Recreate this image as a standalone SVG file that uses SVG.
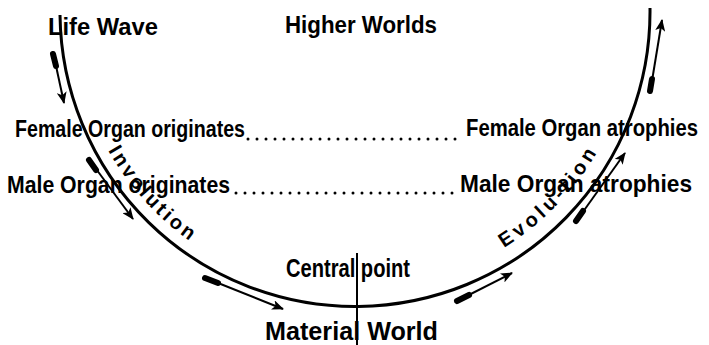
<svg xmlns="http://www.w3.org/2000/svg" width="709" height="345" viewBox="0 0 709 345">
<defs>
<style>
.lbl{font-family:"Liberation Sans",Arial,sans-serif;font-weight:bold;font-size:24px;fill:#000}
.big{font-size:26px}
.arc{font-family:"Liberation Sans",Arial,sans-serif;font-weight:bold;font-size:20px;fill:#000}
.curve{fill:none;stroke:#000;stroke-width:3}
.arr{fill:none;stroke:#000;stroke-width:2}
.blob{fill:none;stroke:#000;stroke-width:6;stroke-linecap:round}
.dots{fill:none;stroke:#000;stroke-width:3;stroke-linecap:round;stroke-dasharray:0 9}
</style>
<marker id="ah" markerWidth="12" markerHeight="10" refX="11" refY="5" orient="auto" markerUnits="userSpaceOnUse">
<path d="M0,0 L12,5 L0,10 L3,5 z" fill="#000"/>
</marker>
<path id="invPath" d="M104.2,143.3 A284 284 0 0 0 213,256"/>
<path id="evoPath" d="M495.3,253 A281 281 0 0 0 615.5,115.3"/>
</defs>
<rect width="709" height="345" fill="#fff"/>

<g id="connectors">
<path id="wave" class="curve" d="M60,15 A295 295 0 0 0 650,8"/>
<line id="axis" x1="357" y1="253" x2="357" y2="345" stroke="#000" stroke-width="2"/>
<line class="dots" x1="248" y1="139" x2="456" y2="139"/>
<line class="dots" x1="236" y1="193" x2="453" y2="193"/>
<g id="arrows">
<line class="arr" x1="53" y1="52" x2="64" y2="103" marker-end="url(#ah)"/>
<line class="blob" x1="53" y1="54" x2="56" y2="66"/>
<line class="arr" x1="88" y1="158" x2="133" y2="219" marker-end="url(#ah)"/>
<line class="blob" x1="89" y1="160" x2="96" y2="170"/>
<line class="arr" x1="203" y1="277" x2="283" y2="309" marker-end="url(#ah)"/>
<line class="blob" x1="205" y1="278" x2="218" y2="283"/>
<line class="arr" x1="455" y1="302" x2="512" y2="273" marker-end="url(#ah)"/>
<line class="blob" x1="457" y1="301" x2="469" y2="295"/>
<line class="arr" x1="575" y1="223" x2="625" y2="153" marker-end="url(#ah)"/>
<line class="blob" x1="576" y1="221" x2="583" y2="211"/>
<line class="arr" x1="650" y1="93" x2="662" y2="20" marker-end="url(#ah)"/>
<line class="blob" x1="650" y1="91" x2="652" y2="79"/>
</g>
</g>

<g id="life-wave"><text class="lbl" x="48" y="35" textLength="110" lengthAdjust="spacingAndGlyphs">Life Wave</text></g>
<g id="higher-worlds"><text class="lbl" x="285" y="33" textLength="152" lengthAdjust="spacingAndGlyphs">Higher Worlds</text></g>
<g id="female-originates"><text class="lbl" x="15" y="137" textLength="230" lengthAdjust="spacingAndGlyphs">Female Organ originates</text></g>
<g id="female-atrophies"><text class="lbl" x="466" y="136" textLength="232" lengthAdjust="spacingAndGlyphs">Female Organ atrophies</text></g>
<g id="male-originates"><text class="lbl" x="7" y="193" textLength="223" lengthAdjust="spacingAndGlyphs">Male Organ originates</text></g>
<g id="male-atrophies"><text class="lbl" x="460" y="192" textLength="232" lengthAdjust="spacingAndGlyphs">Male Organ atrophies</text></g>
<g id="involution"><text class="arc" letter-spacing="3"><textPath href="#invPath" startOffset="8">Involution</textPath></text></g>
<g id="evolution"><text class="arc" letter-spacing="4"><textPath href="#evoPath" startOffset="10">Evolu-tion</textPath></text></g>
<g id="central-point"><text class="lbl big" x="286" y="277" textLength="124" lengthAdjust="spacingAndGlyphs">Central point</text></g>
<g id="material-world"><text class="lbl big" x="265" y="340" textLength="173" lengthAdjust="spacingAndGlyphs">Material World</text></g>
</svg>
